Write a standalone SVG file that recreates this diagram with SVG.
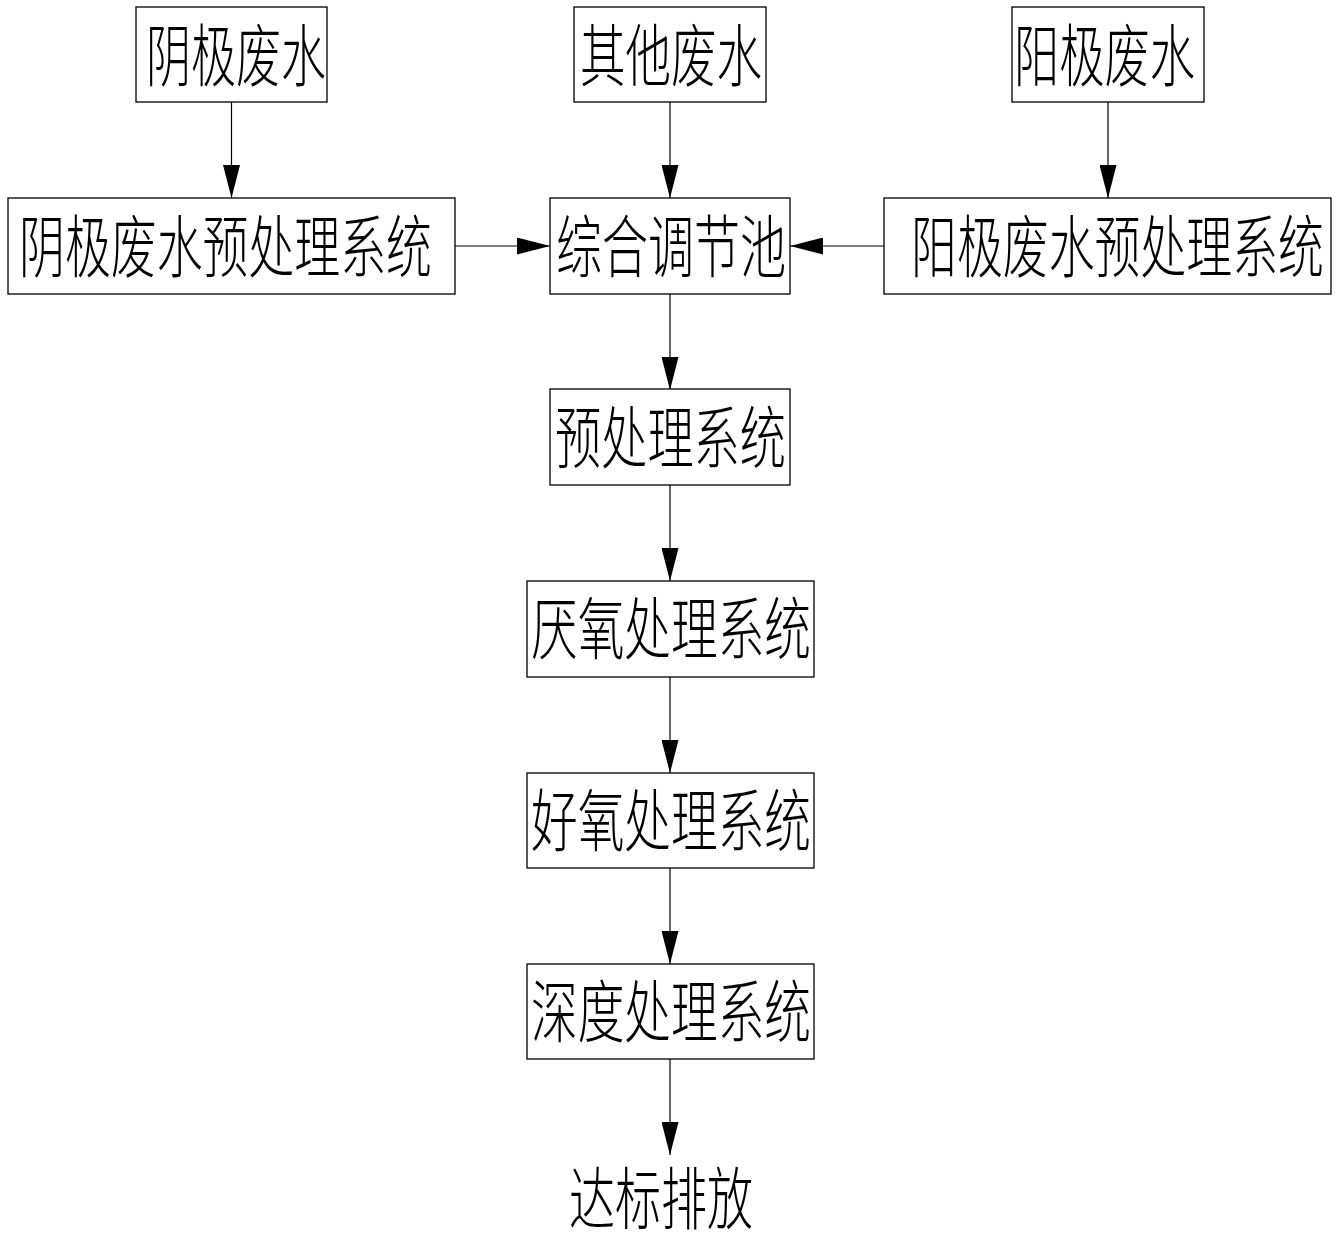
<svg xmlns="http://www.w3.org/2000/svg" width="1342" height="1244" viewBox="0 0 1342 1244">
<style>
.box{fill:#fff;stroke:#000;stroke-width:1.3}
.t{font-family:"Noto Sans CJK SC","Noto Sans CJK JP",sans-serif;font-size:46px;font-weight:300;fill:#000}
.c{fill:none;stroke:#000;stroke-width:1.2;marker-end:url(#ah)}
</style>
<defs>
<marker id="ah" markerUnits="userSpaceOnUse" markerWidth="34" markerHeight="17" refX="33" refY="8.5" orient="auto">
<path d="M0,0 L33,8.5 L0,17 Z" fill="#000"/>
</marker>
</defs>
<rect width="1342" height="1244" fill="#fff"/>
<g id="connectors">
<line class="c" x1="231.5" y1="102" x2="231.5" y2="198"/>
<line class="c" x1="670" y1="102" x2="670" y2="198"/>
<line class="c" x1="1108" y1="102" x2="1108" y2="198"/>
<line class="c" x1="455" y1="246" x2="550" y2="246"/>
<line class="c" x1="884" y1="246" x2="790" y2="246"/>
<line class="c" x1="670" y1="294" x2="670" y2="390"/>
<line class="c" x1="670" y1="485" x2="670" y2="581"/>
<line class="c" x1="670" y1="677" x2="670" y2="773"/>
<line class="c" x1="670" y1="868" x2="670" y2="964"/>
<line class="c" x1="670" y1="1059" x2="670" y2="1155"/>
</g>
<g id="n1"><rect class="box" x="136" y="7" width="191" height="95"/><text class="t" transform="translate(146,80.5) scale(1,1.48)" textLength="180" lengthAdjust="spacingAndGlyphs">阴极废水</text></g>
<g id="n2"><rect class="box" x="574" y="7" width="192" height="95"/><text class="t" transform="translate(580,80.5) scale(1,1.48)" textLength="182" lengthAdjust="spacingAndGlyphs">其他废水</text></g>
<g id="n3"><rect class="box" x="1012" y="7" width="192" height="95"/><text class="t" transform="translate(1014,80.5) scale(1,1.48)" textLength="181" lengthAdjust="spacingAndGlyphs">阳极废水</text></g>
<g id="n4"><rect class="box" x="8" y="198" width="447" height="96"/><text class="t" transform="translate(19,272) scale(1,1.48)" textLength="413" lengthAdjust="spacingAndGlyphs">阴极废水预处理系统</text></g>
<g id="n5"><rect class="box" x="550" y="198" width="240" height="96"/><text class="t" transform="translate(556,272) scale(1,1.48)" textLength="230" lengthAdjust="spacingAndGlyphs">综合调节池</text></g>
<g id="n6"><rect class="box" x="884" y="198" width="447" height="96"/><text class="t" transform="translate(911,272) scale(1,1.48)" textLength="413" lengthAdjust="spacingAndGlyphs">阳极废水预处理系统</text></g>
<g id="n7"><rect class="box" x="550" y="389" width="240" height="96"/><text class="t" transform="translate(555,463) scale(1,1.48)" textLength="231" lengthAdjust="spacingAndGlyphs">预处理系统</text></g>
<g id="n8"><rect class="box" x="527" y="581" width="287" height="96"/><text class="t" transform="translate(531,654) scale(1,1.48)" textLength="280" lengthAdjust="spacingAndGlyphs">厌氧处理系统</text></g>
<g id="n9"><rect class="box" x="527" y="773" width="287" height="95"/><text class="t" transform="translate(531,846) scale(1,1.48)" textLength="280" lengthAdjust="spacingAndGlyphs">好氧处理系统</text></g>
<g id="n10"><rect class="box" x="527" y="964" width="287" height="95"/><text class="t" transform="translate(531,1037) scale(1,1.48)" textLength="280" lengthAdjust="spacingAndGlyphs">深度处理系统</text></g>
<g id="n11"><text class="t" transform="translate(569,1224) scale(1,1.48)" textLength="184" lengthAdjust="spacingAndGlyphs">达标排放</text></g>
</svg>
